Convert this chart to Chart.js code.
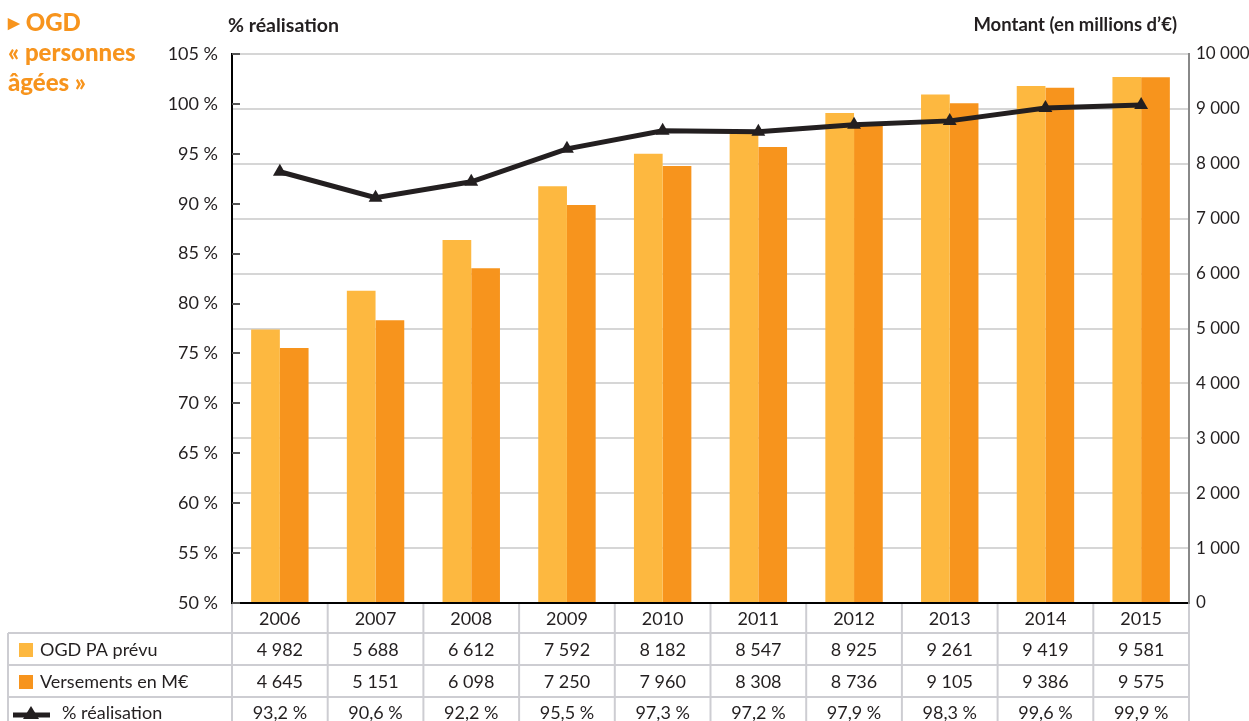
<!DOCTYPE html>
<html><head><meta charset="utf-8">
<script src="https://cdn.jsdelivr.net/npm/chart.js@4/dist/chart.umd.min.js"></script>
<style>
html,body{margin:0;padding:0;background:#fff;}
#wrap{position:relative;width:1249px;height:721px;overflow:hidden;font-family:Lato,"Open Sans",sans-serif;}
#c{position:absolute;left:0;top:0;}
.t{position:absolute;white-space:nowrap;}
#title{left:8px;top:7px;color:#F7941D;font-weight:900;font-size:24px;line-height:30px;}
#yt{left:228px;top:13px;font-weight:700;font-size:19.5px;color:#231F20;}
#y2t{right:72px;top:13px;font-weight:700;font-size:18.5px;color:#231F20;}
</style></head>
<body>
<div id="wrap">
<canvas id="c" width="1249" height="721"></canvas>
<div class="t" id="title"><span style="font-size:15px;vertical-align:3px">&#9654;</span> OGD<br>« personnes<br>âgées »</div>
<div class="t" id="yt">% réalisation</div>
<div class="t" id="y2t">Montant (en millions d’€)</div>
</div>
<script>
const years = ['2006','2007','2008','2009','2010','2011','2012','2013','2014','2015'];
const ogdPrevu = [4982,5688,6612,7592,8182,8547,8925,9261,9419,9581];
const versements = [4645,5151,6098,7250,7960,8308,8736,9105,9386,9575];
const realisation = [93.2,90.6,92.2,95.5,97.3,97.2,97.9,98.3,99.6,99.9];
const seriesNames = ['OGD PA prévu','Versements en M€','% réalisation'];

const C1 = '#FDB840', C2 = '#F7941D', INK = '#231F20', GRID = '#D6D6D6';
const FONT = 'Lato, "Open Sans", sans-serif';
const fmtN = n => String(n).replace(/\B(?=(\d{3})+(?!\d))/g, ' ');
const fmtP = v => v.toFixed(1).replace('.', ',') + ' %';

const tablePlugin = {
  id: 'dataTable',
  afterDraw(chart) {
    const ctx = chart.ctx, a = chart.chartArea, x = chart.scales.x, y = chart.scales.y;
    ctx.save();
    ctx.strokeStyle = '#555'; ctx.lineWidth = 2;
    y.ticks.forEach(t => {
      const py = Math.round(y.getPixelForValue(t.value));
      ctx.beginPath(); ctx.moveTo(a.left, py); ctx.lineTo(a.left + 8, py); ctx.stroke();
    });
    const rowsY = [a.bottom, a.bottom + 30, a.bottom + 62, a.bottom + 94, a.bottom + 130];
    const tableLeft = 8;
    const n = years.length;
    const step = (a.right - a.left) / n;
    ctx.strokeStyle = '#CDCDD2'; ctx.lineWidth = 2;
    for (let r = 1; r < rowsY.length - 1; r++) {
      ctx.beginPath(); ctx.moveTo(tableLeft, rowsY[r]); ctx.lineTo(a.right, rowsY[r]); ctx.stroke();
    }
    for (let i = 0; i <= n; i++) {
      const px = a.left + i * step;
      ctx.beginPath(); ctx.moveTo(px, a.bottom + 1); ctx.lineTo(px, 721); ctx.stroke();
    }
    ctx.beginPath(); ctx.moveTo(tableLeft, rowsY[1]); ctx.lineTo(tableLeft, 721); ctx.stroke();

    ctx.fillStyle = INK; ctx.font = '18px ' + FONT; ctx.textBaseline = 'middle'; ctx.textAlign = 'center';
    const rowVals = [years, ogdPrevu.map(fmtN), versements.map(fmtN), realisation.map(fmtP)];
    rowVals.forEach((vals, r) => {
      const cy = (rowsY[r] + rowsY[r + 1]) / 2 + (r === 3 ? -2 : 1);
      vals.forEach((v, i) => ctx.fillText(v, x.getPixelForValue(i), cy));
    });
    ctx.textAlign = 'left';
    const c1y = (rowsY[1] + rowsY[2]) / 2 + 1, c2y = (rowsY[2] + rowsY[3]) / 2 + 1, c3y = (rowsY[3] + rowsY[4]) / 2 - 2;
    ctx.fillStyle = C1; ctx.fillRect(19, c1y - 7, 14, 14);
    ctx.fillStyle = C2; ctx.fillRect(19, c2y - 7, 14, 14);
    ctx.fillStyle = INK;
    ctx.fillText(seriesNames[0], 40, c1y);
    ctx.fillText(seriesNames[1], 40, c2y);
    ctx.fillText(seriesNames[2], 62, c3y);
    ctx.strokeStyle = INK; ctx.lineWidth = 5;
    ctx.beginPath(); ctx.moveTo(13, c3y + 2); ctx.lineTo(50, c3y + 2); ctx.stroke();
    ctx.beginPath(); ctx.moveTo(31, c3y - 7); ctx.lineTo(39, c3y + 6); ctx.lineTo(23, c3y + 6); ctx.closePath(); ctx.fill();
    ctx.restore();
  }
};

new Chart(document.getElementById('c'), {
  data: {
    labels: years,
    datasets: [
      { type: 'line', label: seriesNames[2], data: realisation, yAxisID: 'y', order: 0,
        borderColor: INK, borderWidth: 5, backgroundColor: INK, pointStyle: 'triangle',
        pointRadius: 8, pointBorderWidth: 0, tension: 0 },
      { type: 'bar', label: seriesNames[0], data: ogdPrevu, yAxisID: 'y2', order: 1,
        backgroundColor: C1, categoryPercentage: 0.6, barPercentage: 1.0 },
      { type: 'bar', label: seriesNames[1], data: versements, yAxisID: 'y2', order: 1,
        backgroundColor: C2, categoryPercentage: 0.6, barPercentage: 1.0 }
    ]
  },
  options: {
    responsive: false, animation: false, devicePixelRatio: 1,
    layout: { autoPadding: false, padding: { top: 54, left: 0, right: 0, bottom: 0 } },
    plugins: { legend: { display: false }, tooltip: { enabled: false } },
    scales: {
      x: { offset: true, grid: { display: false }, border: { color: '#000', width: 2 },
           ticks: { display: false }, afterFit: s => { s.height = 118; } },
      y: { position: 'left', min: 50, max: 105,
           ticks: { stepSize: 5, padding: 6, color: INK, font: { family: FONT, size: 18 }, callback: v => v + ' %' },
           grid: { display: false }, border: { color: '#000', width: 2 },
           afterFit: s => { s.width = 232; } },
      y2: { position: 'right', min: 0, max: 10000,
            ticks: { stepSize: 1000, padding: 7, color: INK, font: { family: FONT, size: 17 }, callback: v => fmtN(v) },
            grid: { color: GRID, lineWidth: 2, drawTicks: false }, border: { color: '#888', width: 2 },
            afterFit: s => { s.width = 60; } }
    }
  },
  plugins: [tablePlugin]
});
</script>
</body></html>
